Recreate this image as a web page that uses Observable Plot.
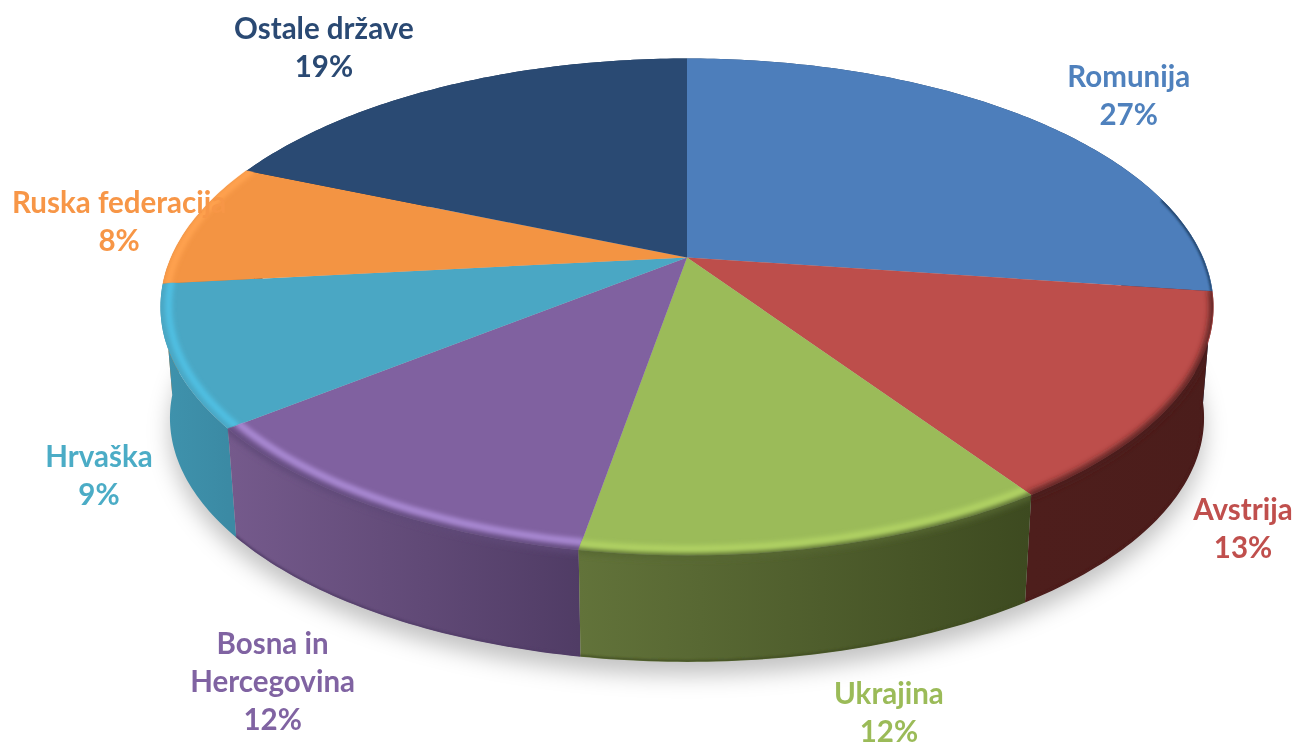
<!DOCTYPE html>
<html>
<head>
<meta charset="utf-8">
<style>html,body{margin:0;padding:0;background:#fff}svg{display:block}</style>
<script src="https://cdn.jsdelivr.net/npm/d3@7"></script>
<script src="https://cdn.jsdelivr.net/npm/@observablehq/plot@0.6"></script>
</head>
<body>
<div id="chart"></div>
<script>
// Data
const names = ["Romunija","Avstrija","Ukrajina","Bosna in\nHercegovina","Hrvaška","Ruska federacija","Ostale države"];
const shares = [27.2,13.4,12.1,11.5,9.1,8.1,18.6];
// Styles
const topColors  = ["#4d7ebb","#bd4e4b","#9bbb59","#8061a0","#4aa7c4","#f39443","#2a4a73"];
const textColors = ["#4f81bd","#c0504d","#9bbb59","#8064a2","#4bacc6","#f79646","#2a4a73"];
const sideLeft   = ["#23446c","#4e1e1c","#62733a","#755a8c","#3f93ad","#c97530","#203a5c"];
const sideRight  = ["#1f3c60","#4b1d1b","#3d4a20","#503c65","#3b8aa4","#c97530","#203a5c"];
const bevelLight = [null,null,"#b0d264","#a888d2","#50bfe2","#ffa24f",null];
const bevelInset = [1,1,0.982,0.978,0.985,0.99,1];
const edgeSoft   = [null,"#4c1e1c","#566832","#5f4878",null,null,null];
// Shift from a slice's rim midpoint to its label
const labelShift = [[97.5,-25],[67,127.5],[68,163.5],[-99,173.5],[-72,117.5],[-72,-3.5],[-119,-40.5]];

// Pie projection: a tilted disc in perspective
const cx=686.5, cy=257, ax=516, ay=238.6, persp=0.199, depthScale=0.982, depthShift=116.5;
function project(t, rho=1, level=0){
  const th=2*Math.PI*t, u=rho*Math.sin(th), v=rho*Math.cos(th), d=1+persp*v;
  const X=ax*u/d, Y=ay*v/d;
  return level===0 ? [cx+X, cy-Y] : [cx+depthScale*X, depthScale*(cy-Y)+depthShift];
}
const cum=[0]; shares.forEach(s=>cum.push(cum[cum.length-1]+s/100));
function arc(t0,t1,rho,level){
  const n=Math.max(2,Math.ceil((t1-t0)*400)), out=[];
  for(let i=0;i<=n;i++){ const p=project(t0+(t1-t0)*i/n,rho,level); out.push({x:p[0],y:p[1]}); }
  return out;
}
const slices=shares.map((s,i)=>({i,t0:cum[i],t1:cum[i+1]}));
const topPts=s=>[{x:cx,y:cy},...arc(s.t0,s.t1,1,0)];
const sidePts=s=>[...arc(s.t0,s.t1,1,0),...arc(s.t0,s.t1,1,1).reverse()];
const pathOf=pts=>"M"+pts.map(p=>`${p.x},${p.y}`).join("L")+"Z";

const defs=()=>{
  const grads=slices.map(s=>{
    const xs=arc(s.t0,s.t1,1,0).map(d=>d.x);
    return `<linearGradient id="side${s.i}" gradientUnits="userSpaceOnUse" x1="${d3.min(xs)}" x2="${d3.max(xs)}" y1="0" y2="0"><stop offset="0" stop-color="${sideLeft[s.i]}"/><stop offset="1" stop-color="${sideRight[s.i]}"/></linearGradient>`;
  }).join("");
  const clips=slices.map(s=>
    `<clipPath id="top${s.i}"><path d="${pathOf(topPts(s))}"/></clipPath>`+
    `<clipPath id="all${s.i}"><path d="${pathOf(topPts(s))}"/><path d="${pathOf(sidePts(s))}"/></clipPath>`
  ).join("");
  const blur=(id,sd)=>`<filter id="${id}" filterUnits="userSpaceOnUse" x="0" y="0" width="1296" height="749"><feGaussianBlur stdDeviation="${sd}"/></filter>`;
  return d3.create("svg:defs").html(grads+clips+blur("b10",11)+blur("b3",3)+blur("b2",2)+blur("b1",1)+blur("b05",0.55)).node();
};
const blurred=(id,clip)=>(index,scales,values,dims,ctx,next)=>{
  const g=next(index,scales,values,dims,ctx); g.setAttribute("filter",`url(#${id})`);
  if(!clip) return g;
  const w=document.createElementNS("http://www.w3.org/2000/svg","g");
  w.setAttribute("clip-path",`url(#${clip})`); w.appendChild(g); return w;
};
const lineOf=(pts,opts)=>Plot.line(pts,{x:"x",y:"y",curve:"linear",...opts});

const marks=[defs];
// ground shadow
marks.push(lineOf(arc(0,1,1,1),{fill:"#000",fillOpacity:0.24,stroke:"none",dy:13,render:blurred("b10")}));
// side walls, back to front
[0,6,5,1,4,3,2].forEach(i=>{
  marks.push(lineOf(sidePts(slices[i]),{fill:`url(#side${i})`,stroke:"none"}));
});
// dark bottom edge
[1,2,3].forEach(i=>{
  const s=slices[i];
  marks.push(lineOf(arc(s.t0,s.t1,1,1),{stroke:sideRight[i],strokeWidth:4,strokeOpacity:0.8,render:blurred("b1",`all${i}`)}));
});
// top faces
slices.forEach(s=>{
  marks.push(lineOf(topPts(s),{fill:topColors[s.i],stroke:"none"}));
});
// soft top/side transition
slices.forEach(s=>{
  if(!edgeSoft[s.i]) return;
  marks.push(lineOf(arc(s.t0,s.t1,1,0),{stroke:edgeSoft[s.i],strokeWidth:7,render:blurred("b3",`all${s.i}`)}));
});
// bevel highlight
slices.forEach(s=>{
  if(!bevelLight[s.i]) return;
  marks.push(lineOf(arc(s.t0,s.t1,bevelInset[s.i],0),{stroke:bevelLight[s.i],strokeWidth:7,render:blurred("b2",`top${s.i}`)}));
});
// thin dark edge of the first slice on the right
marks.push(lineOf(arc(0.21,cum[1],1,0),{stroke:"#23446c",strokeWidth:4,render:blurred("b1","top0")}));

// labels
const labels=slices.map(s=>{
  const m=project((s.t0+s.t1)/2), sh=labelShift[s.i];
  return {x:m[0]+sh[0],y:m[1]+sh[1],text:`${names[s.i]}\n${Math.round(shares[s.i])}%`,c:textColors[s.i]};
});
marks.push(Plot.text(labels,{x:"x",y:"y",text:"text",fill:"c",fontFamily:"Lato",fontWeight:700,fontSize:29.5,lineHeight:1.288,textAnchor:"middle",render:blurred("b05")}));

const chart=Plot.plot({
  width:1296,height:749,margin:0,
  style:{background:"#fff"},
  x:{domain:[0,1296],range:[0,1296],axis:null},
  y:{domain:[0,749],range:[0,749],axis:null},
  color:{type:"identity"},
  marks
});
document.getElementById("chart").appendChild(chart);
</script>
</body>
</html>
